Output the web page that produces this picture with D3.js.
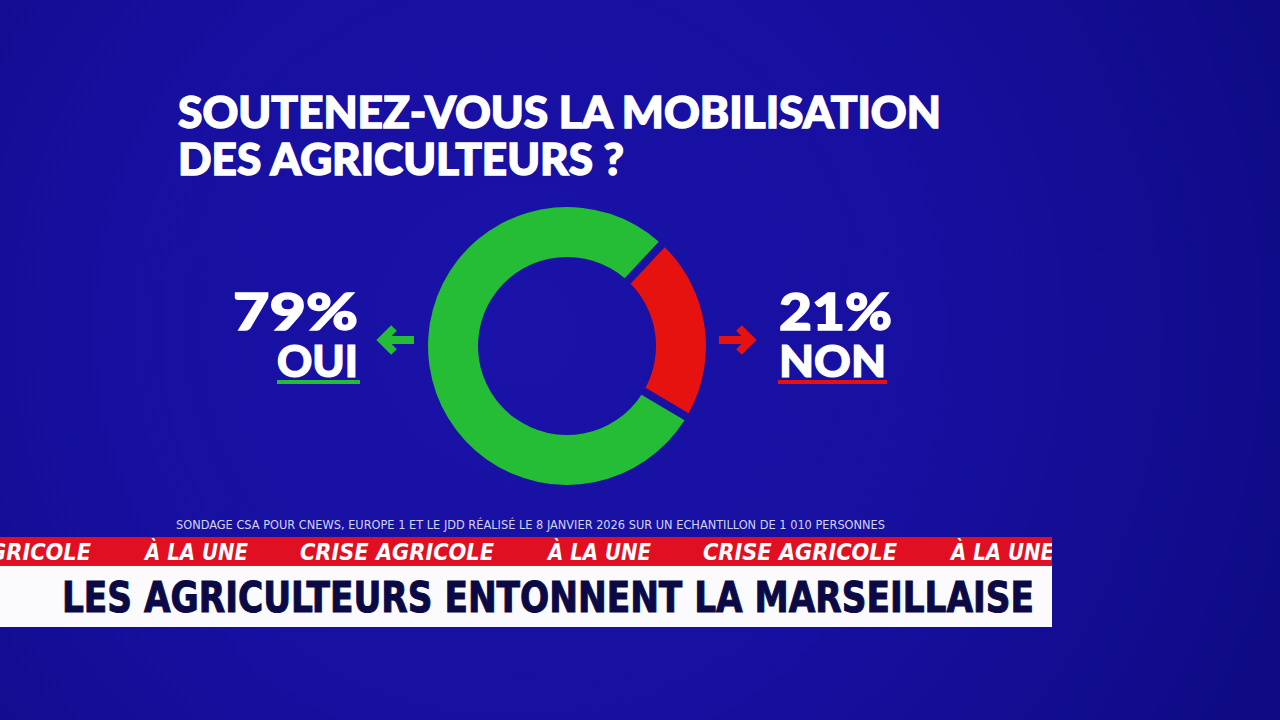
<!DOCTYPE html>
<html lang="fr">
<head>
  <meta charset="UTF-8">
  <title>Soutenez-vous la mobilisation des agriculteurs ?</title>
  <script src="https://d3js.org/d3.v7.min.js"></script>
  <style>
    html, body { margin: 0; padding: 0; background: #14109c; }
    svg { display: block; }
  </style>
</head>
<body>
  <div class="canvas"></div>
  <script>
    const width = 1280;
    const height = 720;

    // poll data
    const answers = ["OUI", "NON"];
    const shares = [79, 21];
    const answerColors = ["#24bd35", "#e5120f"];

    const titleLines = ["SOUTENEZ-VOUS LA MOBILISATION", "DES AGRICULTEURS ?"];
    const sourceText = "SONDAGE CSA POUR CNEWS, EUROPE 1 ET LE JDD RÉALISÉ LE 8 JANVIER 2026 SUR UN ECHANTILLON DE 1 010 PERSONNES";
    const tickerItems = ["CRISE AGRICOLE", "À LA UNE"];
    const headline = "LES AGRICULTEURS ENTONNENT LA MARSEILLAISE";

    const svg = d3.select('.canvas')
      .append('svg')
      .attr('width', width)
      .attr('height', height);

    // background
    const defs = svg.append('defs');
    const bg = defs.append('radialGradient')
      .attr('id', 'bg')
      .attr('gradientUnits', 'userSpaceOnUse')
      .attr('cx', 520).attr('cy', 330).attr('r', 820);
    bg.append('stop').attr('offset', '0%').attr('stop-color', '#1b12a8');
    bg.append('stop').attr('offset', '55%').attr('stop-color', '#160f9e');
    bg.append('stop').attr('offset', '100%').attr('stop-color', '#0e0b84');

    svg.append('rect')
      .attr('width', width)
      .attr('height', height)
      .attr('fill', 'url(#bg)');

    const bold = "Lato, 'Open Sans', sans-serif";
    const narrow = "'Liberation Sans Narrow', 'DejaVu Sans Condensed', 'Roboto Condensed', sans-serif";

    // title
    const titleW = [763, 446];
    svg.selectAll('.title')
      .data(titleLines)
      .enter()
      .append('text')
      .attr('class', 'title')
      .attr('x', 178)
      .attr('y', (d, i) => 128 + i * 47)
      .attr('font-family', bold)
      .attr('font-weight', 900)
      .attr('font-size', 44)
      .attr('fill', '#ffffff')
      .attr('stroke', '#ffffff')
      .attr('stroke-width', 1.4)
      .attr('textLength', (d, i) => titleW[i])
      .attr('lengthAdjust', 'spacingAndGlyphs')
      .text(d => d);

    // donut
    const cx = 567, cy = 346;
    const rOuter = 139, rInner = 89;
    const nonStart = 45 * Math.PI / 180;
    const start = nonStart - 2 * Math.PI * shares[0] / d3.sum(shares);

    const pie = d3.pie()
      .sort(null)
      .startAngle(start)
      .endAngle(start + 2 * Math.PI)
      .padAngle(0.06);

    const arc = d3.arc()
      .innerRadius(rInner)
      .outerRadius(rOuter)
      .padRadius(rInner + 45);

    const donut = svg.append('g')
      .attr('transform', `translate(${cx}, ${cy})`);

    donut.selectAll('path')
      .data(pie(shares))
      .enter()
      .append('path')
      .attr('d', arc)
      .attr('fill', (d, i) => answerColors[i]);

    // side labels
    const sides = [
      { anchor: 'end', x: 358, arrowX: 398, dir: -1, pctW: 125, labW: 81, ulX: 277, ulW: 83 },
      { anchor: 'start', x: 779, arrowX: 735, dir: 1, pctW: 113, labW: 107, ulX: 778, ulW: 109 }
    ];

    sides.forEach((s, i) => {
      const g = svg.append('g');
      g.append('text')
        .attr('x', s.x)
        .attr('y', 330)
        .attr('text-anchor', s.anchor)
        .attr('font-family', bold)
        .attr('font-weight', 900)
        .attr('font-size', 52)
        .attr('fill', '#ffffff')
        .attr('stroke', '#ffffff')
        .attr('stroke-width', 1.4)
        .attr('textLength', s.pctW)
        .attr('lengthAdjust', 'spacingAndGlyphs')
        .text(shares[i] + '%');
      g.append('text')
        .attr('x', s.x)
        .attr('y', 377)
        .attr('text-anchor', s.anchor)
        .attr('font-family', bold)
        .attr('font-weight', 900)
        .attr('font-size', 44)
        .attr('fill', '#ffffff')
        .attr('stroke', '#ffffff')
        .attr('stroke-width', 1.2)
        .attr('textLength', s.labW)
        .attr('lengthAdjust', 'spacingAndGlyphs')
        .text(answers[i]);
      g.append('rect')
        .attr('x', s.ulX)
        .attr('y', 380)
        .attr('width', s.ulW)
        .attr('height', 4)
        .attr('fill', answerColors[i]);

      // arrow
      const ax = s.arrowX, ay = 340, half = 16, head = 12;
      const tip = ax + s.dir * half;
      g.append('path')
        .attr('d', `M${ax - s.dir * half},${ay}L${tip},${ay}M${tip - s.dir * head},${ay - head}L${tip},${ay}L${tip - s.dir * head},${ay + head}`)
        .attr('fill', 'none')
        .attr('stroke', answerColors[i])
        .attr('stroke-width', 8)
        .attr('stroke-linejoin', 'miter');
    });

    // source
    svg.append('text')
      .attr('x', 176)
      .attr('y', 529)
      .attr('font-family', narrow)
      .attr('font-size', 13)
      .attr('fill', '#d4d4ef')
      .attr('textLength', 709)
      .attr('lengthAdjust', 'spacingAndGlyphs')
      .text(sourceText);

    // ticker band
    const bandW = 1052;
    defs.append('clipPath').attr('id', 'band')
      .append('rect').attr('x', 0).attr('y', 537).attr('width', bandW).attr('height', 29);

    svg.append('rect')
      .attr('x', 0).attr('y', 537)
      .attr('width', bandW).attr('height', 29)
      .attr('fill', '#e10f22');

    const tickerRow = [];
    for (let k = -1; k < 3; k++) {
      tickerRow.push({ text: tickerItems[0], x: 300 + k * 403, w: 194 });
      tickerRow.push({ text: tickerItems[1], x: 145 + (k + 1) * 403, w: 103 });
    }

    svg.append('g')
      .attr('clip-path', 'url(#band)')
      .selectAll('text')
      .data(tickerRow.filter(d => d.x < bandW))
      .enter()
      .append('text')
      .attr('x', d => d.x)
      .attr('y', 560)
      .attr('font-family', narrow)
      .attr('font-weight', 700)
      .attr('font-style', 'italic')
      .attr('font-size', 23)
      .attr('fill', '#ffffff')
      .attr('textLength', d => d.w)
      .attr('lengthAdjust', 'spacingAndGlyphs')
      .text(d => d.text);

    // headline band
    svg.append('rect')
      .attr('x', 0).attr('y', 566)
      .attr('width', bandW).attr('height', 61)
      .attr('fill', '#fbfbfd');

    svg.append('text')
      .attr('x', 62)
      .attr('y', 612)
      .attr('font-family', narrow)
      .attr('font-weight', 700)
      .attr('font-size', 43)
      .attr('fill', '#0b0a45')
      .attr('stroke', '#0b0a45')
      .attr('stroke-width', 1)
      .attr('textLength', 972)
      .attr('lengthAdjust', 'spacingAndGlyphs')
      .text(headline);
  </script>
</body>
</html>
